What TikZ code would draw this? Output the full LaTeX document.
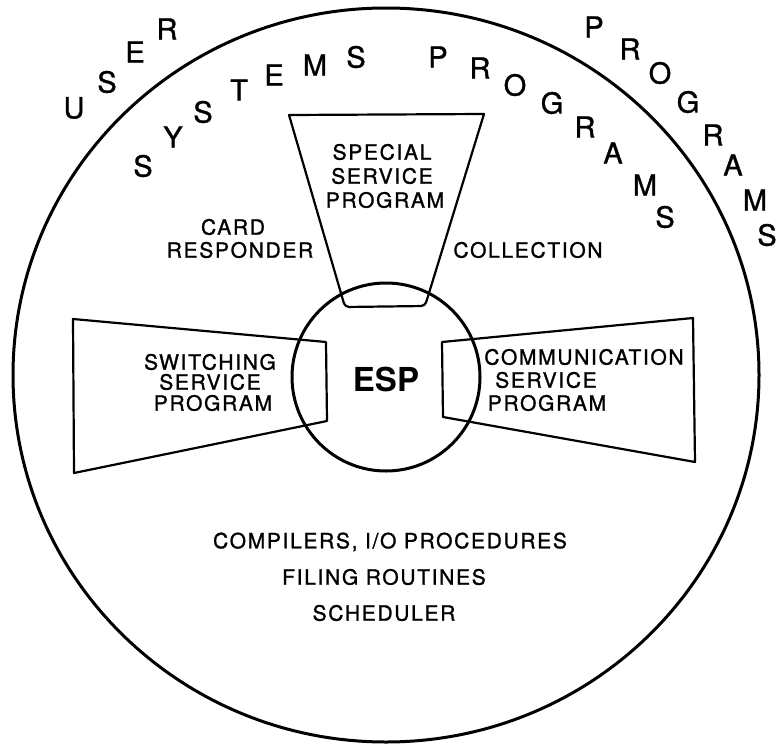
\documentclass[tikz,border=0pt]{standalone}
\usepackage{fontspec}
\setmainfont{TeX Gyre Heros}
\newfontfamily\lett[LetterSpace=8,FakeBold=1.2]{TeX Gyre Heros}
\newfontfamily\arcfont[FakeBold=1.2]{TeX Gyre Heros}
\begin{document}
\begin{tikzpicture}[x=1pt,y=-1pt,
  lbl/.style={font=\lett\fontsize{21}{21}\selectfont, inner sep=0pt, anchor=center},
  arcl/.style={font=\arcfont\fontsize{29}{29}\selectfont, inner sep=0pt, anchor=center},
  ring/.style={line width=3pt},
  trap/.style={line width=2.2pt, line join=round}]
\useasboundingbox (0,0) rectangle (776,744);
% big circle
\draw[ring] (386,375) ellipse [x radius=373, y radius=367];
% ESP circle
\draw[ring] (386,377) circle [radius=94];
% trapezoids
\draw[trap] (289,115) -- (484,114) [rounded corners=4pt] -- (425,306) -- (345,307) [sharp corners] -- cycle;
\draw[trap] (73,319) -- (326,342) -- (327,421) -- (74,473) -- cycle;
\draw[trap] (442,342) -- (693,318) -- (695,462) -- (443,417) -- cycle;
% ESP
\node[inner sep=0pt, font=\bfseries\fontsize{33}{33}\selectfont] (esp) at (386,379) {ESP};
% box texts
\node[lbl] (sp1) at (382,152) {SPECIAL};
\node[lbl] (sp2) at (382,176) {SERVICE};
\node[lbl] (sp3) at (385,200) {PROGRAM};
\node[lbl] (card) at (233,227) {CARD};
\node[lbl] (resp) at (240,250) {RESPONDER};
\node[lbl] (coll) at (528,250) {COLLECTION};
\node[lbl] (sw1) at (210,362) {SWITCHING};
\node[lbl] (sw2) at (210,382) {SERVICE};
\node[lbl] (sw3) at (213,403) {PROGRAM};
\node[lbl] (cm1) at (584,357) {COMMUNICATION};
\node[lbl] (cm2) at (546,380) {SERVICE};
\node[lbl] (cm3) at (547,403) {PROGRAM};
\node[lbl] (b1) at (390,542) {COMPILERS, I/O PROCEDURES};
\node[lbl] (b2) at (384,577) {FILING ROUTINES};
\node[lbl] (b3) at (384,613) {SCHEDULER};
% outer USER
\node[arcl] (u1) at (74,108) {U};
\node[arcl] (u2) at (107,82) {S};
\node[arcl] (u3) at (135,52) {E};
\node[arcl] (u4) at (167,29) {R};
% outer PROGRAMS
\node[arcl] (p1) at (594,27) {P};
\node[arcl] (p2) at (630,49) {R};
\node[arcl] (p3) at (660,73) {O};
\node[arcl] (p4) at (688,102) {G};
\node[arcl] (p5) at (713,135) {R};
\node[arcl] (p6) at (733,165) {A};
\node[arcl] (p7) at (755,200) {M};
\node[arcl] (p8) at (767,235) {S};
% inner SYSTEMS
\node[arcl] (s1) at (143,166) {S};
\node[arcl] (s2) at (173,137) {Y};
\node[arcl] (s3) at (203,112) {S};
\node[arcl] (s4) at (239,90) {T};
\node[arcl] (s5) at (274,75) {E};
\node[arcl] (s6) at (315,65) {M};
\node[arcl] (s7) at (356,57) {S};
% inner PROGRAMS
\node[arcl] (q1) at (438,57) {P};
\node[arcl] (q2) at (480,68) {R};
\node[arcl] (q3) at (515,85) {O};
\node[arcl] (q4) at (552,103) {G};
\node[arcl] (q5) at (585,127) {R};
\node[arcl] (q6) at (613,153) {A};
\node[arcl] (q7) at (645,185) {M};
\node[arcl] (q8) at (665,217) {S};
\end{tikzpicture}
\end{document}
